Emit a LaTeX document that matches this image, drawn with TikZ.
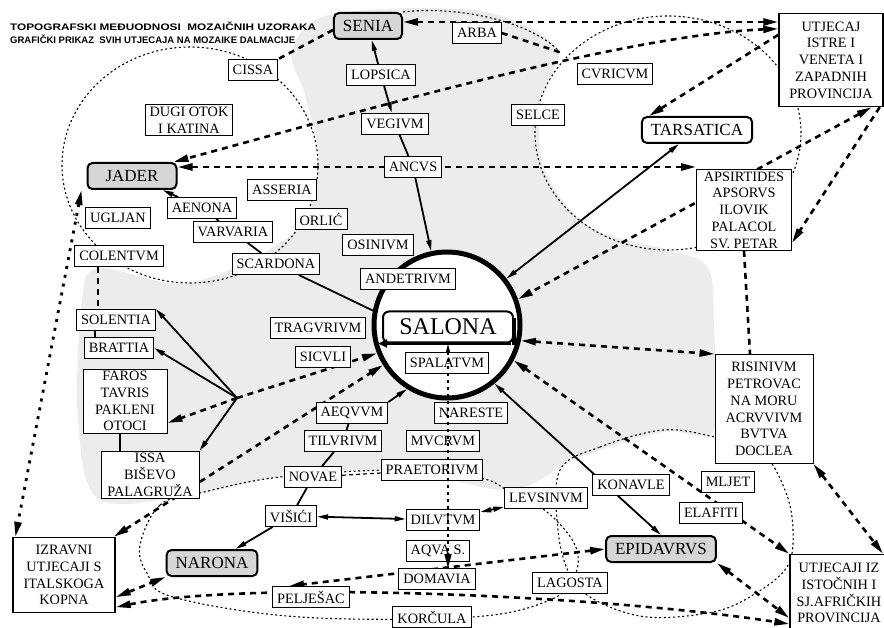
\documentclass[tikz,border=0pt]{standalone}
\usepackage{fontspec}
\setmainfont{Liberation Serif}
\newfontfamily\titlefont{Liberation Sans}
\usetikzlibrary{arrows.meta,calc}
\pgfdeclarelayer{back}
\pgfdeclarelayer{bg}
\pgfsetlayers{back,bg,main}
\definecolor{cityg}{gray}{0.84}
\definecolor{regiong}{gray}{0.925}
\begin{document}
\begin{tikzpicture}[x=1pt,y=-1pt,
 lbl/.style={draw, fill=white, line width=0.9pt, inner xsep=4.5pt, inner ysep=2pt, minimum height=21pt, font=\fontsize{14.3}{16.8}\selectfont, align=center},
 city/.style={lbl, rounded corners=5pt, line width=2pt, fill=cityg, minimum height=26pt, inner xsep=9pt, font=\fontsize{17}{20}\selectfont},
 bigbox/.style={lbl, line width=1.4pt},
 sl/.style={line width=1.8pt, >={Triangle[length=11pt,width=5pt]}},
 dsh/.style={line width=2.6pt, dash pattern=on 6pt off 5pt, >={Triangle[length=15pt,width=7pt]}},
 dtk/.style={line width=2.8pt, dash pattern=on 3pt off 6pt, >={Triangle[length=15pt,width=7pt]}},
 dts/.style={line width=1.1pt, dash pattern=on 2pt off 2.6pt},
 ttl/.style={anchor=west, inner sep=0, font=\titlefont\bfseries\fontsize{9.5}{11}\selectfont},
]
\useasboundingbox (0,0) rectangle (884,628);

% titles
\node[ttl] (t1) at (10,26) {\scalebox{1.24}[1]{TOPOGRAFSKI MEĐUODNOSI\ \ MOZAIČNIH UZORAKA}};
\node[ttl] (t2) at (10,39.5) {\scalebox{1.0}[1]{GRAFIČKI PRIKAZ\ \ SVIH UTJECAJA NA MOZAIKE DALMACIJE}};

% central circle first, so that boxes lie over it
\node[circle, draw, line width=5pt, fill=white, minimum size=146pt, inner sep=0] (sal) at (447,325) {};
\node[draw, rounded corners=6pt, line width=2pt, fill=white, minimum width=130pt, minimum height=31pt, inner sep=0, font=\fontsize{24}{28}\selectfont] (salbox) at (448,327) {SALONA};

% nodes
\node[city] (senia) at (368,26) {SENIA};
\node[lbl] (arba) at (477,33) {ARBA};
\node[lbl] (cissa) at (253,70) {CISSA};
\node[lbl] (lopsica) at (381,75) {LOPSICA};
\node[lbl] (cvricvm) at (615,74) {CVRICVM};
\node[lbl] (dugi) at (189,120) {DUGI OTOK\\I KATINA};
\node[lbl] (selce) at (538,115) {SELCE};
\node[lbl] (vegivm) at (395,124) {VEGIVM};
\node[city, fill=white] (tarsatica) at (697,130) {TARSATICA};
\node[lbl] (ancvs) at (413,167) {ANCVS};
\node[city, minimum width=89pt] (jader) at (132,176) {JADER};
\node[lbl] (asseria) at (282,190) {ASSERIA};
\node[lbl, minimum width=95pt] (apsirtides) at (744,210) {APSIRTIDES\\APSORVS\\ILOVIK\\PALACOL\\SV. PETAR};
\node[lbl] (aenona) at (202,208) {AENONA};
\node[lbl] (orlic) at (321,219) {ORLIĆ};
\node[lbl] (ugljan) at (118,218) {UGLJAN};
\node[lbl] (varvaria) at (233,232) {VARVARIA};
\node[lbl] (osinivm) at (378,245) {OSINIVM};
\node[lbl] (colentvm) at (119,256) {COLENTVM};
\node[lbl] (scardona) at (276,264) {SCARDONA};
\node[lbl] (andetrivm) at (408,279) {ANDETRIVM};
\node[lbl] (spalatvm) at (447,363) {SPALATVM};
\node[lbl] (tragvrivm) at (318,328) {TRAGVRIVM};
\node[lbl] (sicvli) at (323,357) {SICVLI};
\node[lbl] (solentia) at (116,320) {SOLENTIA};
\node[lbl] (brattia) at (119,348) {BRATTIA};
\node[lbl, minimum width=84pt] (faros) at (125,401) {FAROS\\TAVRIS\\PAKLENI\\OTOCI};
\node[lbl, minimum width=98pt] (issa) at (150,475) {ISSA\\BIŠEVO\\PALAGRUŽA};
\node[lbl] (aeqvvm) at (352,413) {AEQVVM};
\node[lbl] (nareste) at (471,413) {NARESTE};
\node[lbl] (tilvrivm) at (343,441) {TILVRIVM};
\node[lbl] (mvcrvm) at (443,441) {MVCRVM};
\node[lbl] (praetorivm) at (432,470) {PRAETORIVM};
\node[lbl] (novae) at (313,477) {NOVAE};
\node[lbl] (levsinvm) at (546,498) {LEVSINVM};
\node[lbl] (konavle) at (631,485) {KONAVLE};
\node[lbl] (mljet) at (728,482) {MLJET};
\node[lbl] (elafiti) at (711,513) {ELAFITI};
\node[lbl, minimum width=98pt, minimum height=109pt] (risinivm) at (764,409) {RISINIVM\\PETROVAC\\NA MORU\\ACRVVIVM\\BVTVA\\DOCLEA};
\node[lbl] (visici) at (291,516) {VIŠIĆI};
\node[lbl] (dilvtvm) at (443,520) {DILVTVM};
\node[lbl] (aqva) at (438,551) {AQVA S.};
\node[lbl] (domavia) at (437,579) {DOMAVIA};
\node[lbl] (lagosta) at (570,583) {LAGOSTA};
\node[lbl] (peljesac) at (311,597) {PELJEŠAC};
\node[lbl] (korcula) at (432,617) {KORČULA};
\node[city] (narona) at (212,563) {NARONA};
\node[city] (epidavrvs) at (661,549) {EPIDAVRVS};
\node[bigbox, minimum width=102pt, minimum height=75pt] (izravni) at (64,575) {IZRAVNI\\UTJECAJI S\\ITALSKOGA\\KOPNA};
\node[bigbox, minimum width=98pt, minimum height=77pt] (utjecajiz) at (839,593) {UTJECAJI IZ\\ISTOČNIH I\\SJ.AFRIČKIH\\PROVINCIJA};
\node[bigbox, minimum width=104pt, minimum height=93pt] (utjecaj) at (831,60) {UTJECAJ\\ISTRE I\\VENETA I\\ZAPADNIH\\PROVINCIJA};
\coordinate (hub) at (237,398);
\coordinate (arbaend) at (562,53);

% salona box shadow
\draw[line width=3.5pt, -{Triangle[length=9pt,width=8pt]}] ([xshift=-3pt]salbox.south east) -- ([xshift=-4pt]salbox.south west);
\draw[line width=3.5pt] ([yshift=-2pt]salbox.south east) -- ([yshift=-8pt]salbox.north east);

% central vertical dotted line
\draw[line width=1.6pt, dash pattern=on 3pt off 4pt, {Triangle[length=9pt,width=4pt]}-{Triangle[length=14pt,width=7pt]}] (salbox.south) -- (salbox.south |- domavia.north);

\begin{pgfonlayer}{back}
\fill[regiong] plot[smooth cycle, tension=0.55] coordinates {(333,14) (480,11) (557,48) (540,100) (545,170) (590,227) (668,250) (708,268) (714,330) (714,430) (663,432) (580,457) (510,490) (400,470) (280,477) (200,493) (100,500) (78,420) (82,300) (100,268) (190,283) (297,230) (318,160) (305,95) (292,50)};
\end{pgfonlayer}

\begin{pgfonlayer}{bg}
% thin dotted loops
\draw[dts] (190,165) ellipse [x radius=128pt, y radius=118pt];
\draw[dts] (668,133) ellipse [x radius=133pt, y radius=117pt];
\draw[dts] plot[smooth cycle, tension=0.6] coordinates {(140,545) (160,505) (200,493) (280,477) (400,470) (480,478) (510,492) (547,512) (575,545) (575,575) (550,600) (472,617) (300,617) (173,597) (147,573)};
\draw[dts] plot[smooth cycle, tension=0.6] coordinates {(560,470) (600,447) (663,430) (715,437) (760,450) (785,490) (793,530) (787,567) (753,595) (713,612) (647,617) (595,600) (570,575) (558,530)};
\draw[dts] (senia.north east) .. controls (450,6) and (525,18) .. (558,50);

% solid connectors
\draw[sl,->] (lopsica) -- (senia);
\draw[sl,->] (lopsica) -- (vegivm);
\draw[sl] (vegivm) -- (ancvs);
\draw[sl,->] (ancvs) -- (sal);
\draw[sl,<->] (tarsatica) -- (sal);
\draw[sl,<->] (sal.-51) -- (epidavrvs.north);
\draw[sl,->] (aeqvvm.north east) -- (sal.238);
\draw[sl] (tilvrivm) -- (aeqvvm);
\draw[sl] (novae) -- (tilvrivm);
\draw[sl] (novae) -- (visici);
\draw[sl,->] (visici) -- (narona);
\draw[sl,<->] (visici) -- (dilvtvm);
\draw[sl,<->] (dilvtvm) -- (levsinvm);
\draw[sl] (scardona) -- (sal.169);
\draw[sl] (varvaria) -- (scardona);
\draw[sl,->] (aenona) -- (jader);
\draw[sl] (aenona) -- (varvaria);
\draw[sl,->] (hub) -- (solentia.north east);
\draw[sl,->] (hub) -- (brattia.east);
\draw[sl,->] (hub) -- (issa.north east);
\draw[sl] ([xshift=-21pt]solentia.south) -- ([xshift=-21pt]solentia.south |- brattia.north);
\draw[sl] ([xshift=-5pt]faros.south) -- ([xshift=-5pt]faros.south |- issa.north);

% dashed connectors
\draw[dsh,<->] ([yshift=4pt]senia.east) -- ([yshift=4pt]senia.east -| utjecaj.west);
\draw[dsh] ([yshift=-4pt]senia.west) -- (cissa.north east);
\draw[dsh,<->] ([yshift=-16pt]utjecaj.north west) .. controls (620,35) and (330,120) .. ([xshift=-4pt]jader.north east);
\draw[dsh] (arba.east) -- (arbaend);
\draw[dsh,<->] ([yshift=9pt]jader.east) -- ([yshift=9pt]jader.east -| apsirtides.west);
\draw[dsh,->] ([yshift=-22pt]utjecaj.north west) -- ([xshift=8pt]tarsatica.north west);
\draw[dsh,<->] ([xshift=-12pt]utjecaj.south east) -- (sal.20);
\draw[dsh,->] ([xshift=-4pt]utjecaj.south east) -- ([yshift=8pt]apsirtides.south east);
\draw[dsh] (apsirtides.south) -- ([xshift=-14pt]risinivm.north);
\draw[dsh,<->] (sal.-12) -- (risinivm.north west);
\draw[dsh,<->] (sal.-28) -- (utjecajiz.north west);
\draw[dsh,<->] (risinivm.south east) -- ([xshift=44pt]utjecajiz.north);
\draw[dsh,<->] (epidavrvs.south east) -- ([yshift=-25pt]utjecajiz.west);
\draw[dsh,<->] (epidavrvs.west) -- ([xshift=-22pt]peljesac.north);
\draw[dsh,<->] ([yshift=16pt]izravni.south east) -- (narona.south west);
\draw[dsh,<->] ([yshift=6pt]izravni.south east) .. controls (250,580) and (600,595) .. ([yshift=-31pt]utjecajiz.west);
\draw[dsh,<->] ([xshift=-2pt]izravni.north east) -- (sal.212);
\draw[dtk,<->] ([xshift=-5pt]jader.south west) -- ([xshift=3pt]izravni.north west);
\draw[dsh] ([xshift=-21pt]colentvm.south) -- ([xshift=-21pt]colentvm.south |- solentia.north);
\draw[dsh,->] (hub) -- ([yshift=-22pt]faros.east);
\draw[dsh,->] (hub) -- (sal.202);
\draw[line width=1.2pt, dash pattern=on 4pt off 3pt] (novae) -- (praetorivm);
\end{pgfonlayer}
\end{tikzpicture}
\end{document}
